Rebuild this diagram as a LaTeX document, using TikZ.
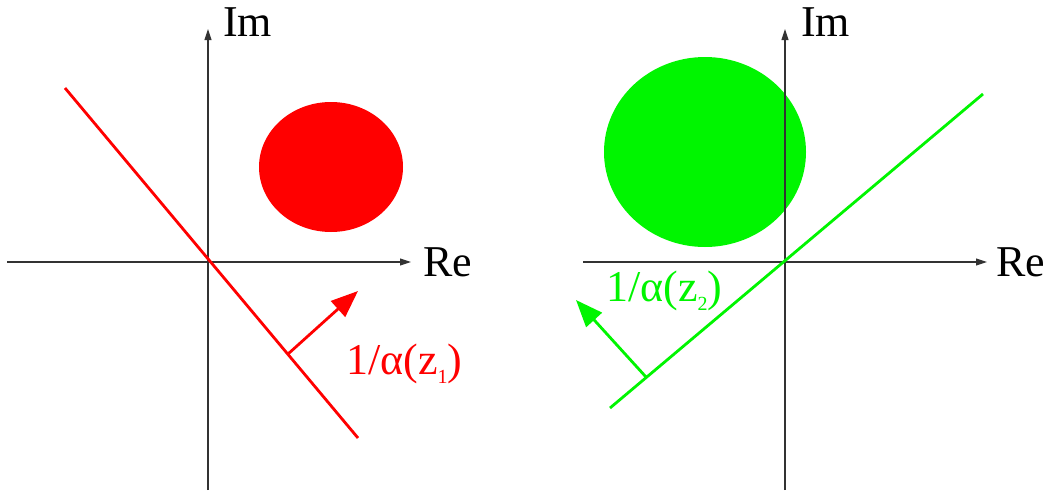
\documentclass[tikz,border=0pt]{standalone}
\usepackage{fontspec}
\setmainfont{Liberation Serif}
\usetikzlibrary{arrows.meta}
\definecolor{pgreen}{RGB}{0,245,0}
\definecolor{pred}{RGB}{255,0,0}
\tikzset{
  axis/.style={line width=1.1pt, draw=black!80, -{Triangle[length=11pt,width=7pt]}},
  lbl/.style={font=\fontsize{44}{48}\selectfont, inner sep=0pt},
  cline/.style={line width=2.8pt},
  carrow/.style={line width=2.8pt, -{Triangle[length=27pt,width=21pt]}},
}
\begin{document}
\begin{tikzpicture}[x=1pt,y=-1pt]
\useasboundingbox (0,0) rectangle (1044,490);
% left panel
\fill[pred] (331,167) ellipse [x radius=72, y radius=65];
\coordinate (L0) at (208,262);
\coordinate (Lxs) at (7,262);
\coordinate (Lxe) at (411,262);
\coordinate (Lys) at (208,490);
\coordinate (Lye) at (208,29);
\draw[axis] (Lxs) -- (Lxe);
\draw[axis] (Lys) -- (Lye);
\node[lbl, anchor=west] (re1) at (423,262) {Re};
\node[lbl, anchor=west] (im1) at (223,22) {Im};
\coordinate (Ra) at (65,88);
\coordinate (Rb) at (358,438);
\draw[cline, pred] (Ra) -- (Rb);
\coordinate (Rf) at (288,354);
\coordinate (Rt) at (358,291);
\draw[carrow, pred] (Rf) -- (Rt);
\node[lbl, pred, anchor=west] (al1) at (346,364) {1/α(z\raisebox{-0.45ex}{\fontsize{20}{22}\selectfont 1})};
% right panel
\fill[pgreen] (705,152) ellipse [x radius=101, y radius=95];
\coordinate (R0) at (785,262);
\coordinate (Rxs) at (583,262);
\coordinate (Rxe) at (987,262);
\coordinate (Rys) at (785,490);
\coordinate (Rye) at (785,29);
\draw[axis] (Rxs) -- (Rxe);
\draw[axis] (Rys) -- (Rye);
\node[lbl, anchor=west] (re2) at (996,262) {Re};
\node[lbl, anchor=west] (im2) at (801,22) {Im};
\coordinate (Ga) at (610,408);
\coordinate (Gb) at (983,94);
\draw[cline, pgreen] (Ga) -- (Gb);
\coordinate (Gf) at (646,377);
\coordinate (Gt) at (576,300);
\draw[carrow, pgreen] (Gf) -- (Gt);
\node[lbl, pgreen, anchor=west] (al2) at (606,291) {1/α(z\raisebox{-0.45ex}{\fontsize{20}{22}\selectfont 2})};
\end{tikzpicture}
\end{document}
